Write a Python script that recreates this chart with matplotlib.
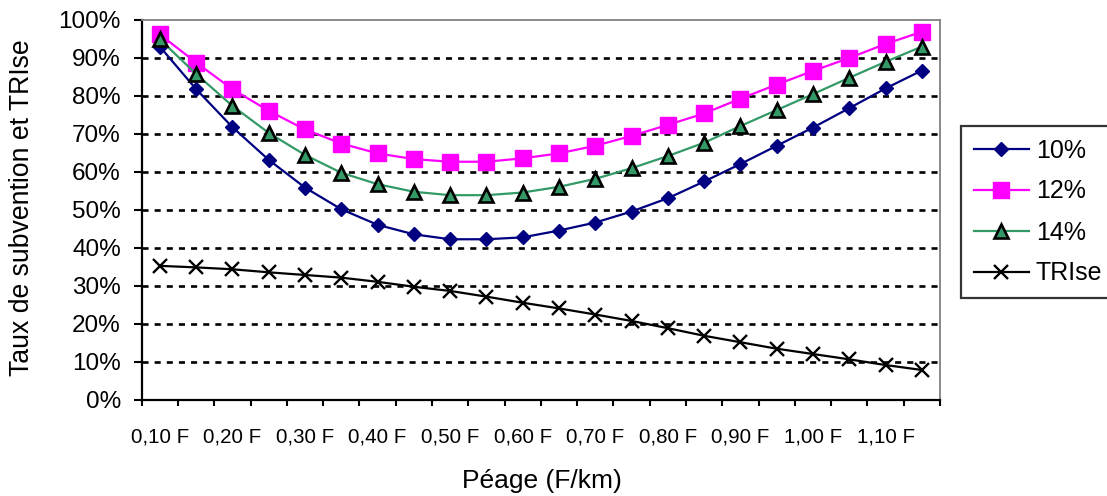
import matplotlib
matplotlib.use("Agg")
import matplotlib.pyplot as plt
from matplotlib.ticker import FixedLocator, FuncFormatter

plt.rcParams['font.family'] = ['Liberation Sans', 'DejaVu Sans']

categories = ["0,10 F", "0,15 F", "0,20 F", "0,25 F", "0,30 F", "0,35 F", "0,40 F", "0,45 F",
              "0,50 F", "0,55 F", "0,60 F", "0,65 F", "0,70 F", "0,75 F", "0,80 F", "0,85 F",
              "0,90 F", "0,95 F", "1,00 F", "1,05 F", "1,10 F", "1,15 F"]
s10 = [93.0, 81.8, 71.8, 63.2, 55.9, 50.2, 46.1, 43.6, 42.3, 42.3, 42.8, 44.6, 46.7, 49.6,
       53.1, 57.5, 62.1, 66.9, 71.7, 76.8, 82.0, 86.7]
s12 = [96.2, 88.8, 81.8, 76.1, 71.2, 67.5, 64.9, 63.4, 62.7, 62.7, 63.6, 64.9, 66.9, 69.5,
       72.4, 75.4, 79.3, 83.0, 86.6, 90.0, 93.7, 96.9]
s14 = [94.9, 85.8, 77.4, 70.3, 64.5, 59.8, 56.8, 54.8, 53.9, 53.9, 54.6, 56.1, 58.2, 61.0,
       64.2, 67.7, 72.1, 76.3, 80.5, 84.8, 89.0, 93.0]
trise = [35.3, 34.9, 34.4, 33.6, 32.9, 32.2, 31.1, 29.8, 28.7, 27.2, 25.6, 24.1, 22.5, 20.8,
         18.9, 16.9, 15.2, 13.5, 12.1, 10.7, 9.2, 7.9]
series_names = ["10%", "12%", "14%", "TRIse"]
y_ticks = [0, 10, 20, 30, 40, 50, 60, 70, 80, 90, 100]

W, H = 1107, 496
fig = plt.figure(figsize=(W / 100, H / 100), dpi=100)
ax = fig.add_axes([141.7 / W, 1 - 400 / H, (940 - 141.7) / W, (400 - 20) / H])

x = list(range(len(categories)))

ax.plot(x, s10, color='#000080', lw=1.6, marker='D', ms=7.6, mfc='#000080', mec='#000080',
        label=series_names[0], zorder=4, clip_on=False)
ax.plot(x, s12, color='#FF00FF', lw=1.6, marker='s', ms=11, mfc='#FF00FF', mec='#FF00FF',
        label=series_names[1], zorder=3, clip_on=False)
ax.plot(x, s14, color='#339966', lw=1.6, marker='^', ms=10, mfc='#339966', mec='black', mew=1.9,
        label=series_names[2], zorder=5, clip_on=False)
ax.plot(x, trise, color='black', lw=1.6, marker='x', ms=10.5, mew=1.7,
        label=series_names[3], zorder=6, clip_on=False)

ax.set_xlim(-0.5, len(categories) - 0.5)
ax.set_ylim(0, 100)

# y axis
ax.yaxis.set_major_locator(FixedLocator(y_ticks))
ax.yaxis.set_major_formatter(FuncFormatter(lambda v, p: f"{int(round(v))}%"))
ax.tick_params(axis='y', which='major', direction='out', length=6, width=1.5,
               labelsize=17.5, pad=9, colors='black')

# x axis: ticks at boundaries, labels every other category
ax.xaxis.set_major_locator(FixedLocator(x[::2]))
ax.set_xticklabels(categories[::2])
ax.xaxis.set_minor_locator(FixedLocator([i - 0.5 for i in range(len(categories) + 1)]))
ax.tick_params(axis='x', which='major', length=0, labelsize=14.8, pad=20)
ax.tick_params(axis='x', which='minor', direction='out', length=4.5, width=1.5)

# grid
for v in y_ticks[1:-1]:
    ax.axhline(v, color='black', lw=1.9, ls=(0, (2.3, 2.3)), zorder=1)

for side in ['left', 'bottom']:
    ax.spines[side].set_color('black')
    ax.spines[side].set_linewidth(1.6)
for side in ['top', 'right']:
    ax.spines[side].set_color('#808080')
    ax.spines[side].set_linewidth(1.3)

fig.text(22 / W, 1 - 208 / H, "Taux de subvention et TRIse", rotation=90,
         ha='center', va='center', fontsize=19.2)
fig.text(542 / W, 1 - 481 / H, "Péage (F/km)", ha='center', va='center', fontsize=19)

leg = fig.legend(loc='upper left', bbox_to_anchor=(961 / W, 1 - 126 / H),
                 bbox_transform=fig.transFigure, fontsize=18, frameon=True, fancybox=False,
                 edgecolor='black', borderaxespad=0, handlelength=2.2, handletextpad=0.3,
                 labelspacing=0.68, borderpad=0.5, numpoints=1)
leg.get_frame().set_linewidth(1.6)

fig.savefig("out.png", dpi=100, facecolor='white')
